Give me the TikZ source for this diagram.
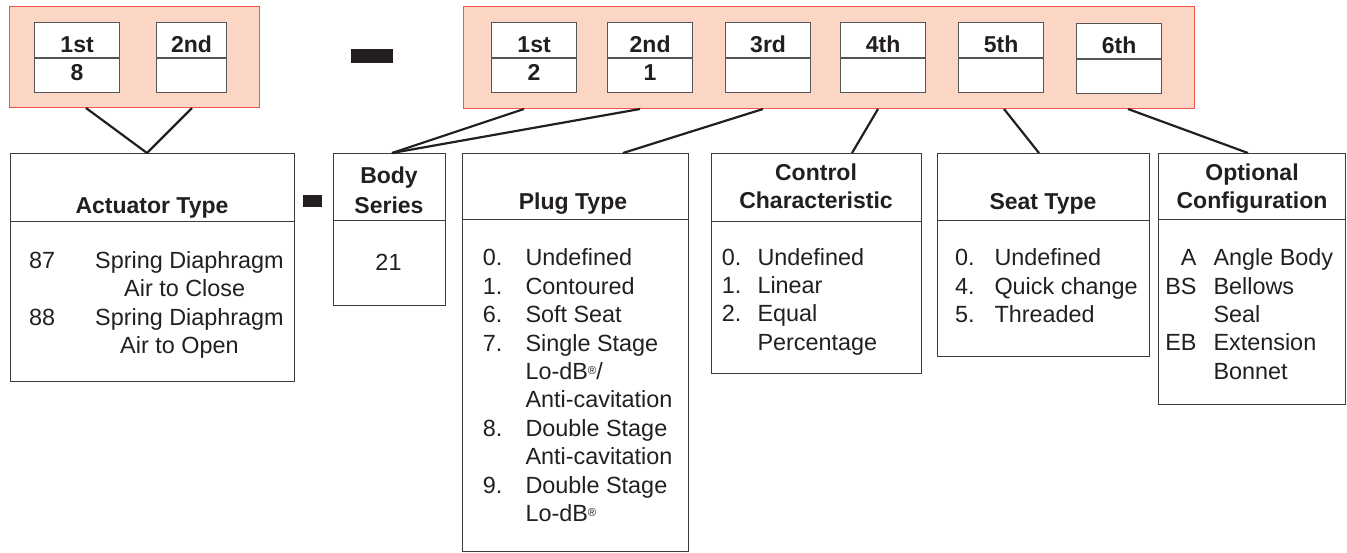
\documentclass[tikz,border=0pt]{standalone}
\usepackage{fontspec}
\setmainfont{Liberation Sans}
\usetikzlibrary{calc}
\definecolor{pinkfill}{RGB}{251,214,196}
\definecolor{pinkedge}{RGB}{240,85,75}
\definecolor{boxedge}{RGB}{60,60,60}
\definecolor{digedge}{RGB}{85,85,85}
\definecolor{inkblack}{RGB}{35,31,32}
\newcommand{\regmark}{\raisebox{5pt}{\fontsize{11.5}{11.5}\selectfont ®}}
\tikzset{
  pinkbox/.style={draw=pinkedge, fill=pinkfill, line width=1pt, anchor=north west, inner sep=0pt},
  digbox/.style={draw=digedge, fill=white, line width=1.2pt, minimum height=70pt, anchor=north west, inner sep=0pt},
  catbox/.style={draw=boxedge, line width=1.2pt, anchor=north west, inner sep=0pt},
  catline/.style={draw=boxedge, line width=1.2pt},
  link/.style={line width=2.2pt, draw=inkblack},
  dashbar/.style={fill=inkblack, inner sep=0pt},
  hd/.style={font=\fontsize{23}{27}\selectfont\bfseries, anchor=base, inner sep=0pt, text=inkblack},
  tx/.style={font=\fontsize{23.4}{28}\selectfont, anchor=base west, inner sep=0pt, text=inkblack},
  txr/.style={font=\fontsize{23.4}{28}\selectfont, anchor=base east, inner sep=0pt, text=inkblack},
  txc/.style={font=\fontsize{23.4}{28}\selectfont, anchor=base, inner sep=0pt, text=inkblack},
}
\begin{document}
\begin{tikzpicture}[x=1pt, y=-1pt]
\useasboundingbox (0,0) rectangle (1347,552);

% pink code boxes
\node[pinkbox, minimum width=250pt, minimum height=101pt] (lp) at (9,6) {};
\node[pinkbox, minimum width=731pt, minimum height=102pt] (rp) at (463,6) {};

% digit boxes (left)
\node[digbox, minimum width=85pt] (d1) at (34,22) {};
\node[digbox, minimum width=70pt] (d2) at (156,22) {};
% digit boxes (right)
\foreach \nm/\xx/\yy in {e1/491/22, e2/607/22, e3/725/22, e4/840/22, e5/958/22, e6/1076/23}{
  \node[digbox, minimum width=85pt] (\nm) at (\xx,\yy) {};
}
\foreach \nm/\lab/\val in {d1/1st/8, d2/2nd/, e1/1st/2, e2/2nd/1, e3/3rd/, e4/4th/, e5/5th/, e6/6th/}{
  \draw[draw=digedge, line width=1.2pt] ([yshift=-36pt]\nm.north west) -- ([yshift=-36pt]\nm.north east);
  \node[hd] (\nm-lab) at ([yshift=-30pt]\nm.north) {\lab};
  \node[hd] (\nm-val) at ([yshift=-58pt]\nm.north) {\val};
}

% dashes
\node[dashbar, minimum width=42pt, minimum height=14pt] (dash1) at (372,56) {};
\node[dashbar, minimum width=19.6pt, minimum height=12.3pt] (dash2) at (312.5,201) {};

% category boxes
\node[catbox, minimum width=284pt, minimum height=228pt] (act) at (10,153) {};
\node[catbox, minimum width=112pt, minimum height=152pt] (body) at (333,153) {};
\node[catbox, minimum width=225.5pt, minimum height=398pt] (plug) at (462,153) {};
\node[catbox, minimum width=210pt, minimum height=220pt] (ctrl) at (711,153) {};
\node[catbox, minimum width=212pt, minimum height=203pt] (seat) at (937,153) {};
\node[catbox, minimum width=187pt, minimum height=251pt] (opt) at (1158,153) {};

\draw[catline] (act.west |- 0,221.7) -- (act.east |- 0,221.7);
\draw[catline] (body.west |- 0,220.7) -- (body.east |- 0,220.7);
\draw[catline] (plug.west |- 0,219.7) -- (plug.east |- 0,219.7);
\draw[catline] (ctrl.west |- 0,221.3) -- (ctrl.east |- 0,221.3);
\draw[catline] (seat.west |- 0,220.7) -- (seat.east |- 0,220.7);
\draw[catline] (opt.west |- 0,219.3) -- (opt.east |- 0,219.3);

% connectors
\draw[link] ([xshift=77pt]lp.south west) -- ([xshift=137pt]act.north west);
\draw[link] ([xshift=183pt]lp.south west) -- ([xshift=137pt]act.north west);
\draw[link] ([xshift=61pt]rp.south west) -- ([xshift=59pt]body.north west);
\draw[link] ([xshift=177pt]rp.south west) -- ([xshift=59pt]body.north west);
\draw[link] ([xshift=300pt]rp.south west) -- ([xshift=161pt]plug.north west);
\draw[link] ([xshift=415pt]rp.south west) -- ([xshift=141pt]ctrl.north west);
\draw[link] ([xshift=541pt]rp.south west) -- ([xshift=102pt]seat.north west);
\draw[link] ([xshift=665pt]rp.south west) -- ([xshift=90pt]opt.north west);

% headers
\node[hd] (act-h) at (152,213.3) {Actuator Type};
\node[hd] (body-h1) at (389,183) {Body};
\node[hd] (body-h2) at (389,213) {Series};
\node[hd] (plug-h) at (573,209.3) {Plug Type};
\node[hd] (ctrl-h1) at (816,180) {Control};
\node[hd] (ctrl-h2) at (816,208.3) {Characteristic};
\node[hd] (seat-h) at (1043,209.3) {Seat Type};
\node[hd] (opt-h1) at (1252,180.7) {Optional};
\node[hd] (opt-h2) at (1252,208.3) {Configuration};

% actuator contents
\node[tx] (a87) at (29,268.3) {87};
\node[tx] (a87t) at (95,268.3) {Spring Diaphragm};
\node[tx] (a87u) at (124,296.7) {Air to Close};
\node[tx] (a88) at (29,325) {88};
\node[tx] (a88t) at (95,325) {Spring Diaphragm};
\node[tx] (a88u) at (120,353.3) {Air to Open};

% body contents
\node[txc] (b21) at (388.5,270) {21};

% plug contents
\foreach \i/\n/\t in {0/0./Undefined, 1/1./Contoured, 2/6./Soft Seat, 3/7./Single Stage,
  4//{Lo-dB\regmark/}, 5//Anti-cavitation, 6/8./Double Stage, 7//Anti-cavitation,
  8/9./Double Stage, 9//{Lo-dB\regmark}}{
  \node[tx] (pn\i) at (482.7,265.7+\i*28.45) {\n};
  \node[tx] (pt\i) at (525.3,265.7+\i*28.45) {\t};
}

% control contents
\foreach \i/\n/\t in {0/0./Undefined, 1/1./Linear, 2/2./Equal, 3//Percentage}{
  \node[tx] (cn\i) at (721.7,265+\i*28.4) {\n};
  \node[tx] (ct\i) at (757.3,265+\i*28.4) {\t};
}

% seat contents
\foreach \i/\n/\t in {0/0./Undefined, 1/4./Quick change, 2/5./Threaded}{
  \node[tx] (sn\i) at (955,265.7+\i*28.4) {\n};
  \node[tx] (st\i) at (994.3,265.7+\i*28.4) {\t};
}

% optional contents
\foreach \i/\n/\t in {0/A/Angle Body, 1/BS/Bellows, 2//Seal, 3/EB/Extension, 4//Bonnet}{
  \node[txr] (on\i) at (1196.7,265.7+\i*28.4) {\n};
  \node[tx] (ot\i) at (1213.3,265.7+\i*28.4) {\t};
}
\end{tikzpicture}
\end{document}
